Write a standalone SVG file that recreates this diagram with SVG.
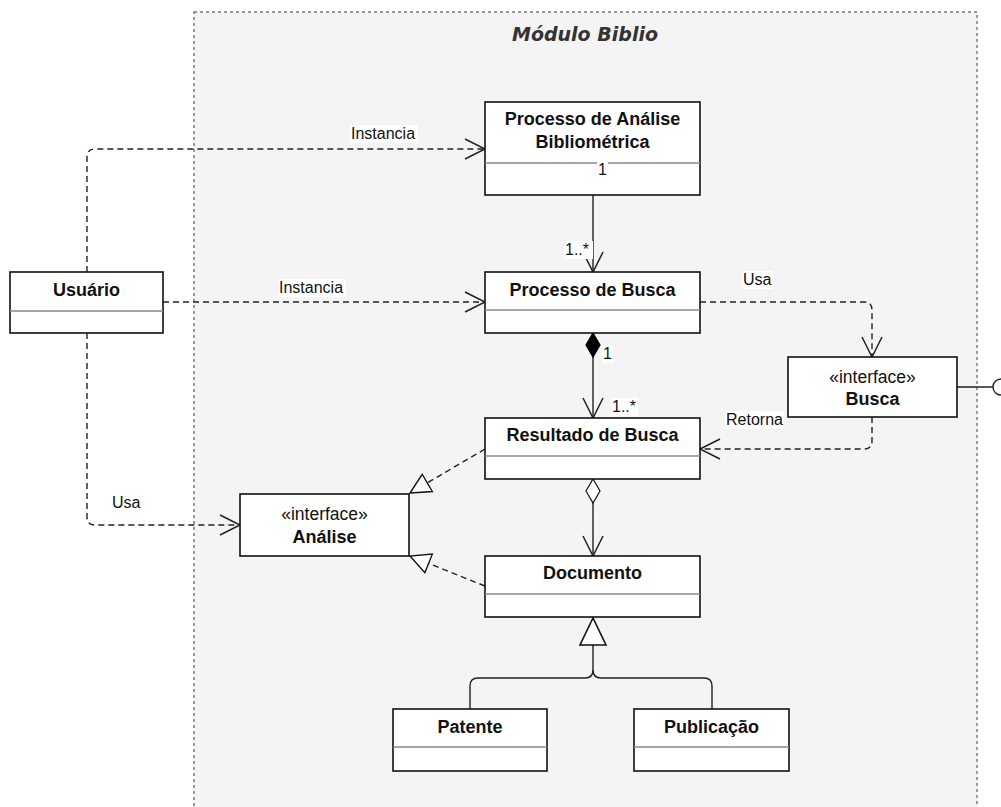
<svg xmlns="http://www.w3.org/2000/svg" width="1001" height="807" viewBox="0 0 1001 807">
  <style>
    .box { fill: #ffffff; stroke: #111111; stroke-width: 1.6; }
    .div { stroke: #8a8a8a; stroke-width: 1.6; }
    .cls { font-family: "Liberation Sans", Arial, sans-serif; font-weight: bold; font-size: 18px; fill: #111111; text-anchor: middle; }
    .ster { font-family: "Liberation Sans", Arial, sans-serif; font-size: 17.5px; fill: #111111; text-anchor: middle; }
    .lbl { font-family: "Liberation Sans", Arial, sans-serif; font-size: 16px; fill: #111111; }
    .lblbg { fill: #ffffff; }
    .dash { fill: none; stroke: #222222; stroke-width: 1.4; stroke-dasharray: 6 4; }
    .solid { fill: none; stroke: #222222; stroke-width: 1.4; }
  </style>
  <defs>
    <marker id="open" markerUnits="userSpaceOnUse" orient="auto" markerWidth="24" markerHeight="24" refX="0" refY="0" viewBox="-22 -12 24 24" overflow="visible">
      <path d="M-20,-10 L0,0 L-20,10" fill="none" stroke="#222222" stroke-width="1.5"/>
    </marker>
    <marker id="diamondFilled" markerUnits="userSpaceOnUse" orient="auto" markerWidth="26" markerHeight="16" refX="0" refY="0" viewBox="-1 -8 26 16" overflow="visible">
      <path d="M0,0 L12,-7 L24,0 L12,7 Z" fill="#000000" stroke="#000000" stroke-width="1.2"/>
    </marker>
    <marker id="diamondHollow" markerUnits="userSpaceOnUse" orient="auto" markerWidth="26" markerHeight="16" refX="0" refY="0" viewBox="-1 -8 26 16" overflow="visible">
      <path d="M0,0 L12,-7 L24,0 L12,7 Z" fill="#ffffff" stroke="#111111" stroke-width="1.2"/>
    </marker>
    <marker id="realize" markerUnits="userSpaceOnUse" orient="auto" markerWidth="24" markerHeight="24" refX="0" refY="0" viewBox="-22 -12 24 24" overflow="visible">
      <path d="M0,0 L-20,-10 L-20,10 Z" fill="#ffffff" stroke="#111111" stroke-width="1.4"/>
    </marker>
  </defs>

  <rect width="1001" height="807" fill="#ffffff"/>

  <!-- package frame -->
  <g id="package">
    <rect x="194" y="12" width="783" height="820" fill="#f4f4f4" stroke="#7a7a7a" stroke-width="1.5" stroke-dasharray="3 3"/>
    <text x="585" y="41" text-anchor="middle" font-family="'DejaVu Sans', Verdana, sans-serif" font-weight="bold" font-style="italic" font-size="19px" fill="#333333">Módulo Biblio</text>
  </g>

  <!-- connectors -->
  <g id="connectors">
    <!-- Usuário instancia Processo de Análise -->
    <path class="dash" d="M87,272 V157 Q87,149 95,149 H485" marker-end="url(#open)"/>
    <!-- Usuário instancia Processo de Busca -->
    <path class="dash" d="M163,302 H485" marker-end="url(#open)"/>
    <!-- Usuário usa Análise -->
    <path class="dash" d="M87,333 V517 Q87,525 95,525 H240" marker-end="url(#open)"/>
    <!-- Processo de Análise -> Processo de Busca -->
    <path class="solid" d="M593,195 V272" marker-end="url(#open)"/>
    <!-- Processo de Busca composes Resultado -->
    <path class="solid" d="M593,333 V418" marker-start="url(#diamondFilled)" marker-end="url(#open)"/>
    <!-- Processo de Busca usa Busca -->
    <path class="dash" d="M700,302 H864 Q872,302 872,310 V357" marker-end="url(#open)"/>
    <!-- Busca retorna Resultado -->
    <path class="dash" d="M872,417 V441 Q872,449 864,449 H700" marker-end="url(#open)"/>
    <!-- provided interface -->
    <path class="solid" d="M957,387 H993"/>
    <circle cx="1001" cy="387" r="8" fill="#ffffff" stroke="#222222" stroke-width="1.4"/>
    <!-- Resultado aggregates Documento -->
    <path class="solid" d="M593,479 V556" marker-start="url(#diamondHollow)" marker-end="url(#open)"/>
    <!-- realizations of Análise -->
    <path class="dash" d="M485,449 L410,493" marker-end="url(#realize)"/>
    <path class="dash" d="M485,586 L410,556" marker-end="url(#realize)"/>
    <!-- generalization to Documento -->
    <path class="solid" d="M593,645 V670 Q593,678 585,678 H478 Q470,678 470,686 V709"/>
    <path class="solid" d="M593,670 Q593,678 601,678 H704 Q712,678 712,686 V709"/>
    <polygon points="593,618 580,645 606,645" fill="#ffffff" stroke="#111111" stroke-width="1.6"/>

    <!-- connector labels -->
    <rect class="lblbg" x="350" y="125" width="68" height="18"/>
    <text class="lbl" x="351" y="139">Instancia</text>
    <rect class="lblbg" x="278" y="279" width="68" height="18"/>
    <text class="lbl" x="279" y="293">Instancia</text>
    <text class="lbl" x="112" y="508">Usa</text>
    <rect class="lblbg" x="742" y="271" width="31" height="18"/>
    <text class="lbl" x="743" y="285">Usa</text>
    <rect class="lblbg" x="725" y="411" width="59" height="18"/>
    <text class="lbl" x="726" y="425">Retorna</text>
    <rect class="lblbg" x="564" y="241" width="29" height="18"/>
    <text class="lbl" x="565" y="255">1..*</text>
    <rect class="lblbg" x="602" y="345" width="11" height="18"/>
    <text class="lbl" x="603" y="359">1</text>
    <rect class="lblbg" x="611" y="398" width="27" height="18"/>
    <text class="lbl" x="612" y="412">1..*</text>
  </g>

  <!-- nodes -->
  <g id="usuario">
    <rect class="box" x="10" y="272" width="153" height="61"/>
    <line class="div" x1="10" y1="311" x2="163" y2="311"/>
    <text class="cls" x="86.5" y="296">Usuário</text>
  </g>

  <g id="processo-analise">
    <rect class="box" x="485" y="102" width="215" height="93"/>
    <line class="div" x1="485" y1="163" x2="700" y2="163"/>
    <text class="cls" x="592.5" y="125">Processo de Análise</text>
    <text class="cls" x="592.5" y="148">Bibliométrica</text>
    <rect class="lblbg" x="597" y="162" width="11" height="16"/>
    <text class="lbl" x="598" y="175">1</text>
  </g>

  <g id="processo-busca">
    <rect class="box" x="485" y="272" width="215" height="61"/>
    <line class="div" x1="485" y1="310" x2="700" y2="310"/>
    <text class="cls" x="592.5" y="296">Processo de Busca</text>
  </g>

  <g id="busca">
    <rect class="box" x="788" y="357" width="169" height="60"/>
    <text class="ster" x="872.5" y="383">«interface»</text>
    <text class="cls" x="872.5" y="405">Busca</text>
  </g>

  <g id="resultado-busca">
    <rect class="box" x="485" y="418" width="215" height="61"/>
    <line class="div" x1="485" y1="456" x2="700" y2="456"/>
    <text class="cls" x="592.5" y="441">Resultado de Busca</text>
  </g>

  <g id="analise">
    <rect class="box" x="240" y="494" width="169" height="62"/>
    <text class="ster" x="324.5" y="520">«interface»</text>
    <text class="cls" x="324.5" y="543">Análise</text>
  </g>

  <g id="documento">
    <rect class="box" x="485" y="556" width="215" height="61"/>
    <line class="div" x1="485" y1="594" x2="700" y2="594"/>
    <text class="cls" x="592.5" y="579">Documento</text>
  </g>

  <g id="patente">
    <rect class="box" x="393" y="709" width="154" height="62"/>
    <line class="div" x1="393" y1="747" x2="547" y2="747"/>
    <text class="cls" x="470" y="733">Patente</text>
  </g>

  <g id="publicacao">
    <rect class="box" x="634" y="709" width="155" height="62"/>
    <line class="div" x1="634" y1="747" x2="789" y2="747"/>
    <text class="cls" x="711.5" y="733">Publicação</text>
  </g>
</svg>
